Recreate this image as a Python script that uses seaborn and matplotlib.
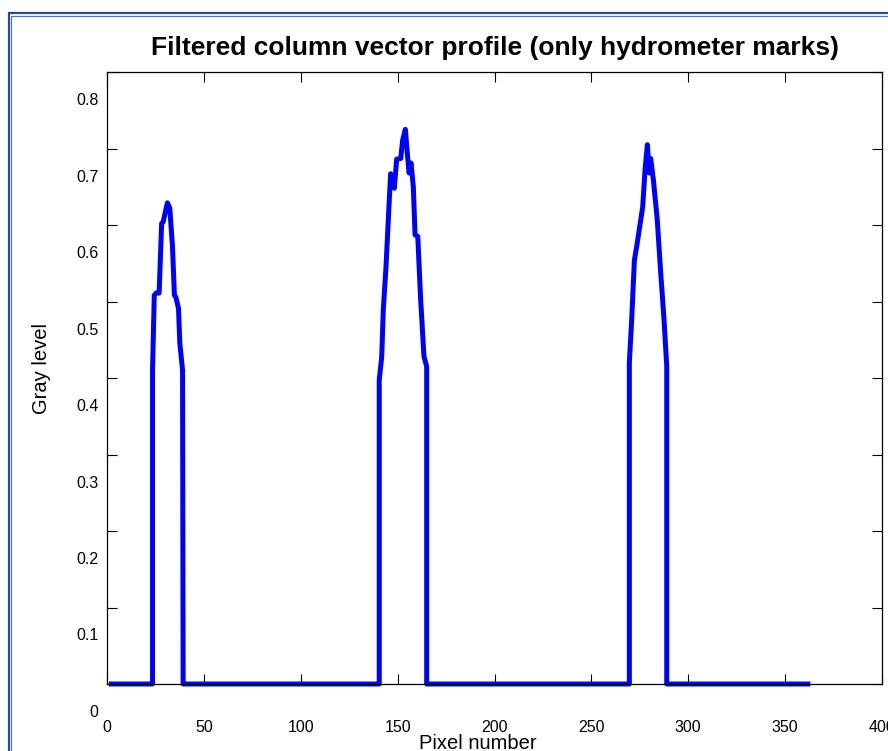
import matplotlib
matplotlib.use("Agg")
import matplotlib.pyplot as plt
import matplotlib.transforms as mtransforms
from matplotlib.lines import Line2D
import seaborn as sns
import pandas as pd

# ---- data ----
line_start_x = 1
line_end_x = 363
baseline_level = 0.0

peak1_x = [23.5, 23.5, 24.4, 25.3, 26.9, 28.2, 29.0, 30.2, 31.2, 32.4, 33.8, 34.8, 35.5, 36.9, 37.6, 39.0, 39.3]
peak1_y = [0.0, 0.410, 0.508, 0.511, 0.511, 0.602, 0.604, 0.618, 0.629, 0.622, 0.572, 0.508, 0.506, 0.491, 0.445, 0.410, 0.0]

peak2_x = [140.5, 140.5, 141.8, 142.6, 144.0, 145.7, 146.4, 148.3, 149.5, 151.6, 152.6, 154.0, 155.0, 155.9, 156.9, 158.1, 159.0, 160.4, 161.9, 163.6, 165.0, 165.0]
peak2_y = [0.0, 0.397, 0.428, 0.489, 0.545, 0.633, 0.667, 0.648, 0.686, 0.687, 0.711, 0.725, 0.694, 0.668, 0.681, 0.650, 0.587, 0.585, 0.502, 0.428, 0.415, 0.0]

peak3_x = [269.6, 269.6, 270.8, 272.2, 273.4, 275.5, 276.5, 277.7, 278.9, 279.9, 280.6, 282.0, 284.0, 285.8, 287.5, 288.5, 288.9, 288.9]
peak3_y = [0.0, 0.420, 0.476, 0.554, 0.572, 0.607, 0.624, 0.672, 0.705, 0.668, 0.687, 0.659, 0.607, 0.537, 0.476, 0.433, 0.416, 0.0]

x_ticks = [0, 50, 100, 150, 200, 250, 300, 350, 400]
x_tick_labels = ["0", "50", "100", "150", "200", "250", "300", "350", "400"]
y_ticks = [0, 0.1, 0.2, 0.3, 0.4, 0.5, 0.6, 0.7, 0.8]
y_tick_labels = ["0", "0.1", "0.2", "0.3", "0.4", "0.5", "0.6", "0.7", "0.8"]

title_text = "Filtered column vector profile (only hydrometer marks)"
x_label = "Pixel number"
y_label = "Gray level"

xs = [line_start_x] + peak1_x + peak2_x + peak3_x + [line_end_x]
ys = [baseline_level] + peak1_y + peak2_y + peak3_y + [baseline_level]
df = pd.DataFrame({"pixel": xs, "gray": ys})

# ---- style ----
sns.set_style("white")
plt.rcParams["font.family"] = ["Liberation Sans", "DejaVu Sans"]
plt.rcParams["text.color"] = "black"
plt.rcParams["axes.labelcolor"] = "black"

fig = plt.figure(figsize=(8.88, 7.51), dpi=100)
fig.patch.set_facecolor("white")
ax = fig.add_axes([107 / 888, 1 - 684 / 751, (882 - 107) / 888, (684 - 72) / 751])

sns.lineplot(data=df, x="pixel", y="gray", sort=False, estimator=None,
             color="#0000FF", linewidth=3.6, ax=ax)
for ln in ax.get_lines():
    ln.set_clip_on(False)
    ln.set_solid_joinstyle("round")
    ln.set_solid_capstyle("butt")

ax.set_xlim(0, 400)
ax.set_ylim(0, 0.8)
ax.set_xticks(x_ticks)
ax.set_xticklabels(x_tick_labels)
ax.set_yticks(y_ticks)
ax.set_yticklabels(y_tick_labels)

for s in ax.spines.values():
    s.set_color("black")
    s.set_linewidth(0.9)
    s.set_visible(True)

ax.tick_params(axis="both", direction="in", length=7, width=0.8, color="black",
               top=True, right=True, bottom=True, left=True,
               labelsize=11.5, labelcolor="black")
ax.tick_params(axis="x", pad=26)
ax.tick_params(axis="y", pad=6)

# y tick labels sit lower than their ticks in the reference
offset = mtransforms.ScaledTranslation(0, -27 / 100, fig.dpi_scale_trans)
for lab in ax.get_yticklabels():
    lab.set_transform(lab.get_transform() + offset)

ax.set_title(title_text, fontsize=19, fontweight="bold", color="black", pad=12)
ax.set_xlabel(x_label, fontsize=14.5, color="black")
ax.xaxis.set_label_coords(0.479, -0.082)
ax.set_ylabel(y_label, fontsize=14.5, color="black")
ax.yaxis.set_label_coords(-0.072, 0.516)

# double frame around the figure
W, H = 888, 751
fig.add_artist(Line2D([8.5 / W, 8.5 / W], [0, 1 - 13 / H], color="#2B4A80", lw=1.6, transform=fig.transFigure))
fig.add_artist(Line2D([11.3 / W, 11.3 / W], [0, 1 - 15.8 / H], color="#5576AC", lw=0.9, transform=fig.transFigure))
fig.add_artist(Line2D([8.5 / W, 1], [1 - 13.3 / H, 1 - 13.3 / H], color="#2B4A80", lw=1.6, transform=fig.transFigure))
fig.add_artist(Line2D([11.3 / W, 1], [1 - 15.8 / H, 1 - 15.8 / H], color="#5576AC", lw=0.9, transform=fig.transFigure))

fig.savefig("out.png", dpi=100)
